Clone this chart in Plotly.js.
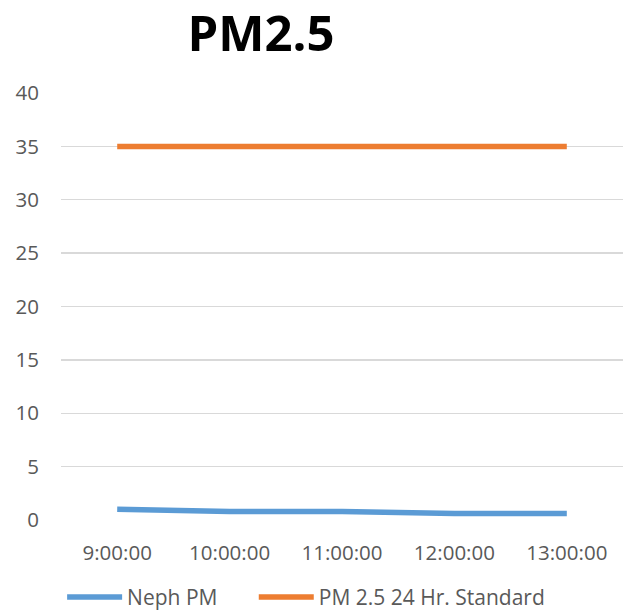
<!DOCTYPE html>
<html>
<head>
<meta charset="utf-8">
<script src="https://cdn.plot.ly/plotly-3.0.1.min.js"></script>
<style>html,body{margin:0;padding:0;background:#fff;}#chart{width:623px;height:611px;}</style>
</head>
<body>
<div id="chart"></div>
<script>
const times = ["9:00:00", "10:00:00", "11:00:00", "12:00:00", "13:00:00"];
const nephPM = [1.0, 0.8, 0.8, 0.6, 0.6];
const pm25Standard = [35, 35, 35, 35, 35];
const seriesNames = ["Neph PM", "PM 2.5 24 Hr. Standard"];
const yTicks = [0, 5, 10, 15, 20, 25, 30, 35, 40];

const fontFam = "Open Sans, Noto Sans, sans-serif";
const traces = [
  {x: times, y: nephPM, name: seriesNames[0], type: "scatter", mode: "lines", legend: "legend",
   line: {color: "#5b9bd5", width: 5.5, shape: "spline", smoothing: 0.6}},
  {x: times, y: pm25Standard, name: seriesNames[1], type: "scatter", mode: "lines", legend: "legend2",
   line: {color: "#ed7d31", width: 5.5}}
];
const legFont = {family: fontFam, size: 21, color: "#595959"};
const layout = {
  width: 623, height: 611,
  margin: {l: 61, r: 0, t: 93, b: 91, autoexpand: false},
  paper_bgcolor: "#fff", plot_bgcolor: "#fff",
  title: {text: "<b>PM2.5</b>", x: 261/623, xanchor: "center", y: 1 - 34/611, yanchor: "middle",
          font: {family: fontFam, size: 49, color: "#000"}},
  xaxis: {type: "category", range: [-0.5, 4.5], showgrid: false, zeroline: false, showline: false,
          ticks: "", ticklabelstandoff: 18, tickfont: {family: fontFam, size: 20.5, color: "#595959"}, fixedrange: true},
  yaxis: {range: [0, 40], tickvals: yTicks, showgrid: true, gridcolor: "#d9d9d9", gridwidth: 1.3,
          zeroline: false, showline: false, ticks: "", ticklabelstandoff: 21,
          tickfont: {family: fontFam, size: 20.5, color: "#595959"}, fixedrange: true},
  showlegend: true,
  legend: {orientation: "h", x: 0.002, xanchor: "left", y: -0.181, yanchor: "middle",
           itemwidth: 55, font: legFont, bgcolor: "rgba(0,0,0,0)"},
  legend2: {orientation: "h", x: 0.343, xanchor: "left", y: -0.181, yanchor: "middle",
           itemwidth: 55, font: legFont, bgcolor: "rgba(0,0,0,0)"}
};
Plotly.newPlot("chart", traces, layout, {staticPlot: true, displayModeBar: false});
</script>
</body>
</html>
